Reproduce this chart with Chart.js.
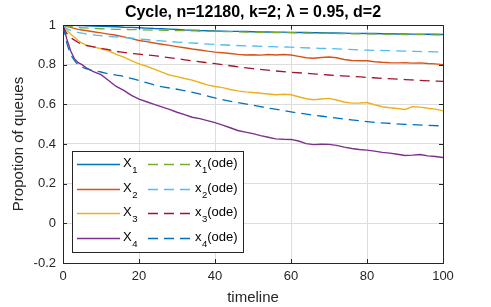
<!DOCTYPE html>
<html>
<head>
<meta charset="utf-8">
<script src="https://cdn.jsdelivr.net/npm/chart.js@4.4.1/dist/chart.umd.min.js"></script>
<style>
  html, body { margin: 0; padding: 0; background: #fff; }
</style>
</head>
<body>
<canvas id="chart" width="491" height="307"></canvas>
<script>
// simulation time grid and the four simulated series
const simT = [0,1,2,3,4,5,6,8,10,12,14,16,18,20,22,24,26,28,30,32,34,36,38,40,42,44,46,48,50,
  52,54,56,58,60,62,64,66,68,70,72,74,76,78,80,82,84,86,88,90,92,94,96,98,100];
const X1 = [1,0.999,0.998,0.998,0.997,0.997,0.996,0.995,0.993,0.992,0.991,0.989,0.988,0.986,0.984,0.982,0.981,0.979,0.977,0.975,0.974,0.972,0.971,0.970,0.969,0.968,0.968,0.967,0.966,
  0.965,0.965,0.964,0.964,0.963,0.962,0.962,0.961,0.961,0.960,0.960,0.959,0.958,0.958,0.957,0.957,0.956,0.956,0.955,0.955,0.954,0.954,0.953,0.953,0.952];
const X2 = [1,0.993,0.988,0.983,0.978,0.975,0.972,0.966,0.960,0.954,0.948,0.940,0.931,0.922,0.916,0.909,0.903,0.897,0.891,0.885,0.879,0.874,0.868,0.863,0.860,0.856,0.852,0.849,0.850,
  0.848,0.851,0.849,0.851,0.849,0.842,0.835,0.832,0.836,0.839,0.835,0.826,0.821,0.820,0.820,0.815,0.812,0.810,0.809,0.810,0.808,0.809,0.806,0.804,0.800];
const X3 = [1,0.975,0.955,0.938,0.922,0.908,0.900,0.890,0.880,0.870,0.852,0.838,0.820,0.804,0.792,0.778,0.762,0.748,0.740,0.730,0.722,0.710,0.698,0.690,0.684,0.675,0.668,0.663,0.660,
  0.656,0.652,0.648,0.651,0.648,0.638,0.628,0.623,0.627,0.630,0.622,0.612,0.606,0.607,0.609,0.598,0.588,0.583,0.579,0.574,0.588,0.586,0.580,0.576,0.567];
const X4 = [1,0.930,0.870,0.830,0.810,0.800,0.785,0.765,0.750,0.720,0.690,0.670,0.645,0.626,0.613,0.600,0.587,0.575,0.560,0.548,0.535,0.528,0.518,0.508,0.495,0.482,0.468,0.460,0.452,
  0.442,0.434,0.426,0.424,0.423,0.415,0.402,0.397,0.399,0.398,0.393,0.384,0.377,0.372,0.369,0.364,0.358,0.354,0.348,0.342,0.344,0.347,0.340,0.337,0.332];

// ode solution
const odeT = [0,0.5,1,2,3,4,5,6,8,10,12.5,15,20,25,30,35,40,45,50,55,60,65,70,75,80,85,90,95,100];
const x1Ode = [1,0.998,0.996,0.993,0.990,0.988,0.986,0.985,0.983,0.981,0.979,0.978,0.976,0.974,0.972,0.970,0.968,0.966,0.964,0.962,0.961,0.959,0.958,0.956,0.955,0.954,0.952,0.951,0.950];
const x2Ode = [1,0.990,0.982,0.973,0.968,0.963,0.959,0.955,0.950,0.946,0.942,0.939,0.930,0.921,0.914,0.908,0.902,0.897,0.894,0.891,0.888,0.884,0.881,0.877,0.873,0.871,0.868,0.866,0.863];
const x3Ode = [1,0.975,0.958,0.938,0.924,0.912,0.903,0.897,0.890,0.883,0.873,0.864,0.853,0.843,0.830,0.817,0.805,0.792,0.780,0.770,0.762,0.755,0.748,0.742,0.736,0.730,0.725,0.720,0.716];
const x4Ode = [1,0.955,0.910,0.855,0.822,0.800,0.788,0.780,0.770,0.763,0.752,0.745,0.720,0.693,0.676,0.657,0.632,0.612,0.595,0.578,0.562,0.548,0.536,0.524,0.513,0.505,0.499,0.495,0.491];

const simNames = ['X_1','X_2','X_3','X_4'];
const odeNames = ['x_1(ode)','x_2(ode)','x_3(ode)','x_4(ode)'];
const xTicks = [0,20,40,60,80,100];
const yTicks = [-0.2,0,0.2,0.4,0.6,0.8,1];

const FONT = "'Liberation Sans', Arial, Helvetica, sans-serif";
const AX = '#262626';
const simColors = ['#0072BD','#D95319','#EDB120','#7E2F8E'];
const odeColors = ['#77AC30','#4DBEEE','#A2142F','#0072BD'];

const pts = (ts, vs) => ts.map((t,i) => ({x:t, y:vs[i]}));

function buildDatasets(){
  const sims = [X1,X2,X3,X4].map((v,i) => ({
    label: simNames[i], data: pts(simT, v), borderColor: simColors[i],
    borderWidth: 1.4, pointRadius: 0, tension: 0, order: 1
  }));
  const odes = [x1Ode,x2Ode,x3Ode,x4Ode].map((v,i) => ({
    label: odeNames[i], data: pts(odeT, v), borderColor: odeColors[i],
    borderWidth: 1.3, borderDash: [10,6], pointRadius: 0, cubicInterpolationMode: 'monotone', order: 0
  }));
  return sims.concat(odes);
}

// MATLAB style box: top/right edges and inward ticks on all sides
const boxPlugin = {
  id: 'box',
  afterDraw(chart){
    const {ctx, chartArea: a, scales} = chart;
    const L = 63.5, R = a.right + 0.5, T = Math.round(a.top) + 0.5, B = a.bottom - 0.5;
    ctx.save();
    ctx.strokeStyle = AX; ctx.lineWidth = 1;
    ctx.beginPath();
    ctx.moveTo(L, T); ctx.lineTo(R, T); ctx.lineTo(R, B);
    xTicks.forEach(v => {
      const px = Math.round(scales.x.getPixelForValue(v)) + 0.5;
      ctx.moveTo(px, a.bottom); ctx.lineTo(px, a.bottom - 4);
      ctx.moveTo(px, T); ctx.lineTo(px, T + 4);
    });
    yTicks.forEach(v => {
      const py = Math.round(scales.y.getPixelForValue(v)) + 0.5;
      ctx.moveTo(a.left, py); ctx.lineTo(a.left + 4, py);
      ctx.moveTo(a.right, py); ctx.lineTo(a.right - 4, py);
    });
    ctx.stroke();
    ctx.restore();
  }
};

function drawLabel(ctx, label, x, y){
  const m = label.match(/^(\w)_(\d)(.*)$/);
  ctx.font = '13px ' + FONT;
  ctx.fillText(m[1], x, y + 3);
  let w = ctx.measureText(m[1]).width;
  ctx.font = '9.5px ' + FONT;
  ctx.fillText(m[2], x + w + 0.5, y + 9);
  w += ctx.measureText(m[2]).width + 0.5;
  if (m[3]){ ctx.font = '13px ' + FONT; ctx.fillText(m[3], x + w, y + 3); }
}

// legend box inside the axes, two columns
const legendPlugin = {
  id: 'boxLegend',
  afterDraw(chart){
    const ctx = chart.ctx;
    const rows = [164, 189, 213, 238];
    const cols = [{x0:77, x1:120, tx:123}, {x0:148, x1:192, tx:195}];
    ctx.save();
    ctx.fillStyle = '#fff';
    ctx.fillRect(72.5, 151.5, 171, 101);
    ctx.strokeStyle = AX; ctx.lineWidth = 1;
    ctx.strokeRect(72.5, 151.5, 171, 101);
    chart.data.datasets.forEach((ds, i) => {
      const c = cols[i < 4 ? 0 : 1], y = rows[i % 4];
      ctx.strokeStyle = ds.borderColor;
      ctx.lineWidth = 1.3;
      ctx.setLineDash(ds.borderDash || []);
      ctx.beginPath(); ctx.moveTo(c.x0, y + 0.5); ctx.lineTo(c.x1, y + 0.5); ctx.stroke();
      ctx.setLineDash([]);
      ctx.fillStyle = '#000';
      ctx.textBaseline = 'alphabetic'; ctx.textAlign = 'left';
      drawLabel(ctx, ds.label, c.tx, y);
    });
    ctx.restore();
  }
};

function init(){
  Chart.defaults.font.family = FONT;
  new Chart(document.getElementById('chart'), {
    type: 'line',
    data: { datasets: buildDatasets() },
    options: {
      responsive: false, animation: false, devicePixelRatio: 1,
      layout: { padding: { left: 0, right: 48, top: 0, bottom: 0 } },
      plugins: {
        legend: { display: false }, tooltip: { enabled: false },
        title: { display: true, fullSize: false, text: 'Cycle, n=12180, k=2; λ = 0.95, d=2', color: '#000',
          font: { size: 16, weight: 'bold', lineHeight: 1.125 }, padding: { top: 4, bottom: 3 } }
      },
      scales: {
        x: {
          type: 'linear', min: 0, max: 100,
          afterFit: s => { s.height = 44; },
          afterBuildTicks: s => { s.ticks = xTicks.map(v => ({value: v})); },
          grid: { color: '#dedede', drawTicks: false },
          border: { color: AX },
          ticks: { color: AX, font: { size: 13 }, padding: 6, maxRotation: 0, autoSkip: false },
          title: { display: true, text: 'timeline', color: AX, font: { size: 15 }, padding: { top: 1, bottom: 0 } }
        },
        y: {
          min: -0.2, max: 1,
          afterFit: s => { s.width = 63; },
          afterBuildTicks: s => { s.ticks = yTicks.map(v => ({value: v})); },
          grid: { color: '#dedede', drawTicks: false },
          border: { color: AX },
          ticks: { color: AX, font: { size: 13 }, padding: 7, autoSkip: false,
            callback: v => String(Math.round(v * 10) / 10) },
          title: { display: true, text: 'Propotion of queues', color: AX, font: { size: 15 }, padding: { top: 10, bottom: 0 } }
        }
      }
    },
    plugins: [boxPlugin, legendPlugin]
  });
}
document.addEventListener('DOMContentLoaded', init);
</script>
</body>
</html>
